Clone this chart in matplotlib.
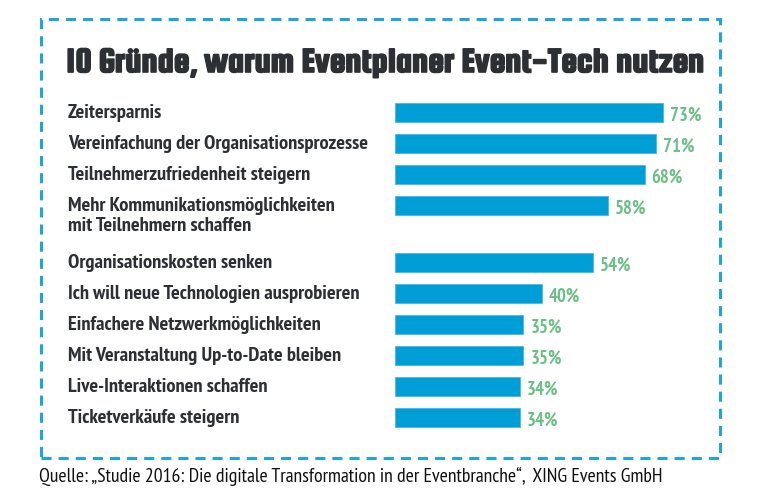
"""
10 Gruende, warum Eventplaner Event-Tech nutzen - horizontal bar chart.
"""

import matplotlib
matplotlib.use("Agg")
import matplotlib.pyplot as plt
from matplotlib import font_manager, patheffects
from matplotlib.patches import Rectangle
from matplotlib.transforms import blended_transform_factory


LABELS = [
    "Zeitersparnis",
    "Vereinfachung der Organisationsprozesse",
    "Teilnehmerzufriedenheit steigern",
    "Mehr Kommunikationsmöglichkeiten\nmit Teilnehmern schaffen",
    "Organisationskosten senken",
    "Ich will neue Technologien ausprobieren",
    "Einfachere Netzwerkmöglichkeiten",
    "Mit Veranstaltung Up-to-Date bleiben",
    "Live-Interaktionen schaffen",
    "Ticketverkäufe steigern",
]
VALUES = [73, 71, 68, 58, 54, 40, 35, 35, 34, 34]

TITLE = "10 Gründe, warum Eventplaner Event-Tech nutzen"
SOURCE = "Quelle: \u201eStudie 2016: Die digitale Transformation in der Eventbranche\u201c,  XING Events GmbH"

BAR_COLOR = "#009ed6"
VALUE_COLOR = "#6cbf86"
TEXT_COLOR = "#2c2f34"
BORDER_COLOR = "#1ea5db"

W, H = 760, 500

installed = {f.name for f in font_manager.fontManager.ttflist}


def pick(*families):
    for f in families:
        if f in installed:
            return [f, "DejaVu Sans"]
    return ["DejaVu Sans"]


BODY_FONT = pick("PT Sans Narrow", "Asap Condensed", "Fira Sans Condensed",
                 "Roboto Condensed", "Barlow Semi Condensed", "Liberation Sans Narrow")
TITLE_FONT = pick("Squada One", "Teko", "Saira ExtraCondensed", "Liberation Sans Narrow")
plt.rcParams["font.family"] = BODY_FONT


def px_x(p):
    return p / W


def px_y(p):
    return 1 - p / H


def fit_width(fig, txt, target_px):
    """Scale the font size so the text is target_px wide."""
    r = fig.canvas.get_renderer()
    w = txt.get_window_extent(renderer=r).width
    txt.set_fontsize(txt.get_fontsize() * target_px / w)


# row positions: one unit per row, extra space after a two-line label
ypos = []
y = 0.0
for lab in LABELS:
    ypos.append(y)
    y += 1 + 0.84 * lab.count("\n")

fig = plt.figure(figsize=(W / 100, H / 100), dpi=100)
fig.patch.set_facecolor("white")

# axes: left 395px, top 90px, 320px wide, 350px tall; 31px per row
ax = fig.add_axes([px_x(395), 1 - 440 / H, 320 / W, 350 / H])
px_per_pct = 268 / 73
ax.set_xlim(0, 320 / px_per_pct)
ymin = -22 / 31
ax.set_ylim(ymin + 350 / 31, ymin)
ax.axis("off")

ax.barh(ypos, VALUES, height=19 / 31, color=BAR_COLOR, edgecolor="#4ab8e2", linewidth=0.6)

for yy, v in zip(ypos, VALUES):
    ax.text(v + 7 / px_per_pct, yy + 4 / 31, f"{v}%", color=VALUE_COLOR,
            fontsize=13.5, fontweight="bold", ha="left", va="center")

lab_tr = blended_transform_factory(fig.transFigure, ax.transData)
label_txts = []
for yy, lab in zip(ypos, LABELS):
    for i, line in enumerate(lab.split("\n")):
        t = ax.text(px_x(68), yy + (6 + 20 * i) / 31, line, transform=lab_tr,
                    color=TEXT_COLOR, fontsize=12, fontweight="bold",
                    ha="left", va="baseline")
        label_txts.append(t)

fig.canvas.draw()
longest = label_txts[1]
fit_width(fig, longest, 300)
for t in label_txts:
    t.set_fontsize(longest.get_fontsize())

title = fig.text(px_x(66), px_y(72), TITLE, color=TEXT_COLOR, fontsize=26,
                 fontweight="bold", ha="left", va="baseline", family=TITLE_FONT,
                 path_effects=[patheffects.withStroke(linewidth=1.2, foreground=TEXT_COLOR)])
fit_width(fig, title, 636)

src = fig.text(px_x(39), px_y(482), SOURCE, color="#111111", fontsize=12,
               ha="left", va="baseline")
fit_width(fig, src, 623)

border = Rectangle((px_x(41), px_y(458)), px_x(720) - px_x(41), px_y(19) - px_y(458),
                   transform=fig.transFigure, fill=False, edgecolor=BORDER_COLOR,
                   linewidth=2.2, linestyle=(0, (3.3, 2.3)))
fig.add_artist(border)

fig.savefig("out.png", dpi=100, facecolor="white")
